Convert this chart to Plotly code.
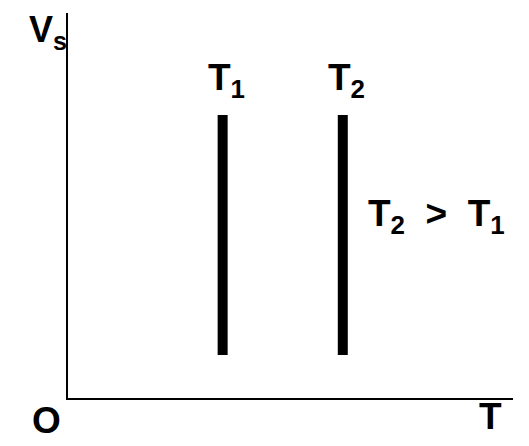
import plotly.graph_objects as go

# ---- data ----
labels = ["T<sub>1</sub>", "T<sub>2</sub>"]
temps = [1.39, 2.47]         # temperature positions (arbitrary units)
v_low = [1.12, 1.12]         # bottom of each vertical segment
v_high = [7.35, 7.35]        # top of each vertical segment
x_label = "T"
y_label = "V<sub>s</sub>"
origin_label = "O"
relation_label = "T<sub>2</sub>&nbsp;&nbsp;&gt;&nbsp;&nbsp;T<sub>1</sub>"

W, H = 529, 446
OFF = 8  # page body margin offset
ML, MR, MT, MB = 60, 24, 5, 56
PW, PH = W - ML - MR, H - MT - MB

def px(x):
    return (x - OFF - ML) / PW

def py(y):
    return (H - MB - (y - OFF)) / PH

FONT = "Liberation Sans, Arial, sans-serif"

fig = go.Figure()
for t, lo, hi in zip(temps, v_low, v_high):
    fig.add_trace(go.Scatter(x=[t, t], y=[lo, hi], mode="lines",
                             line=dict(color="black", width=10),
                             hoverinfo="skip", showlegend=False))

annotations = []
for lab, t, hi in zip(labels, temps, v_high):
    annotations.append(dict(x=t, y=hi, xref="x", yref="y", text="<b>" + lab + "</b>",
                            showarrow=False, xanchor="center", yanchor="bottom",
                            yshift=10, xshift=4,
                            font=dict(size=37, color="black", family=FONT)))

annotations += [
    dict(x=px(28), y=py(8), xref="paper", yref="paper", text="<b>" + y_label + "</b>",
         showarrow=False, xanchor="left", yanchor="top", borderpad=0,
         font=dict(size=36, color="black", family=FONT)),
    dict(x=px(46), y=py(421), xref="paper", yref="paper", text="<b>" + origin_label + "</b>",
         showarrow=False, xanchor="center", yanchor="middle",
         font=dict(size=37, color="black", family=FONT)),
    dict(x=px(490), y=py(416), xref="paper", yref="paper", text="<b>" + x_label + "</b>",
         showarrow=False, xanchor="center", yanchor="middle",
         font=dict(size=37, color="black", family=FONT)),
    dict(x=px(366), y=py(216), xref="paper", yref="paper", text="<b>" + relation_label + "</b>",
         showarrow=False, xanchor="left", yanchor="middle",
         font=dict(size=37, color="black", family=FONT)),
]

axis_common = dict(showgrid=False, zeroline=False, showticklabels=False, ticks="",
                   showline=True, linecolor="black", linewidth=2, fixedrange=True)

fig.update_layout(
    width=W, height=H,
    margin=dict(l=ML, r=MR, t=MT, b=MB, pad=0),
    paper_bgcolor="white", plot_bgcolor="white",
    xaxis=dict(range=[0, 4], **axis_common),
    yaxis=dict(range=[0, 10], **axis_common),
    annotations=annotations,
    showlegend=False,
)

fig.write_html("out.html", config={"displayModeBar": False})
